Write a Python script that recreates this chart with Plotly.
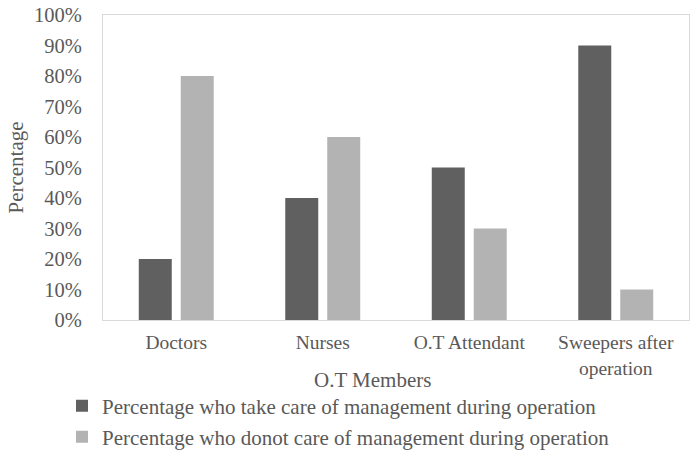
import plotly.graph_objects as go

categories = ["Doctors", "Nurses", "O.T Attendant", "Sweepers after<br>operation"]
take_care = [20, 40, 50, 90]
donot_care = [80, 60, 30, 10]
series_names = ["Percentage who take care of management during operation",
                "Percentage who donot care of management during operation"]
y_ticks = [0, 10, 20, 30, 40, 50, 60, 70, 80, 90, 100]
y_ticktext = [f"{v}%" for v in y_ticks]

FONT = "Liberation Serif"
TXT = "#595959"

W, H = 694, 452
L, T = 103, 15
R = W - 689
B = H - 320
pw = W - L - R
ph = H - T - B


def py(screen_y):
    return -(screen_y - (H - B)) / ph


def px(screen_x):
    return (screen_x - L) / pw


fig = go.Figure()
fig.add_trace(go.Bar(x=categories, y=take_care, name=series_names[0],
                     marker=dict(color="#606060", line=dict(width=0)), legend="legend"))
fig.add_trace(go.Bar(x=categories, y=donot_care, name=series_names[1],
                     marker=dict(color="#b3b3b3", line=dict(width=0)), legend="legend2"))

leg_x = px(62)
fig.update_layout(
    width=W, height=H,
    margin=dict(l=L, r=R, t=T, b=B, autoexpand=False),
    paper_bgcolor="white", plot_bgcolor="white",
    font=dict(family=FONT, color=TXT, size=20),
    barmode="group", bargap=0.427, bargroupgap=0.214,
    showlegend=True,
    legend=dict(x=leg_x, y=py(406), xanchor="left", yanchor="middle",
                font=dict(family=FONT, size=21, color=TXT), bgcolor="rgba(0,0,0,0)"),
    legend2=dict(x=leg_x, y=py(437), xanchor="left", yanchor="middle",
                 font=dict(family=FONT, size=21, color=TXT), bgcolor="rgba(0,0,0,0)"),
    xaxis=dict(showline=True, linecolor="#d9d9d9", linewidth=1, mirror=True,
               showgrid=False, ticks="", ticklabelstandoff=5,
               tickfont=dict(family=FONT, size=19.5, color=TXT)),
    yaxis=dict(range=[0, 100], tickvals=y_ticks, ticktext=y_ticktext,
               showline=True, linecolor="#d9d9d9", linewidth=1, mirror=True,
               showgrid=False, ticks="", ticklabelstandoff=16, ticklabeloverflow="allow",
               tickfont=dict(family=FONT, size=20.5, color=TXT), zeroline=False,
               title=dict(text="Percentage", font=dict(family=FONT, size=21, color=TXT), standoff=4)),
)

fig.add_annotation(text="O.T Members", xref="paper", yref="paper",
                   x=px(372), y=py(380),
                   xanchor="center", yanchor="middle", showarrow=False,
                   font=dict(family=FONT, size=21, color=TXT))

fig.write_html("out.html", config={"displayModeBar": False},
               post_script="document.body.style.margin='0';document.body.style.padding='0';")
